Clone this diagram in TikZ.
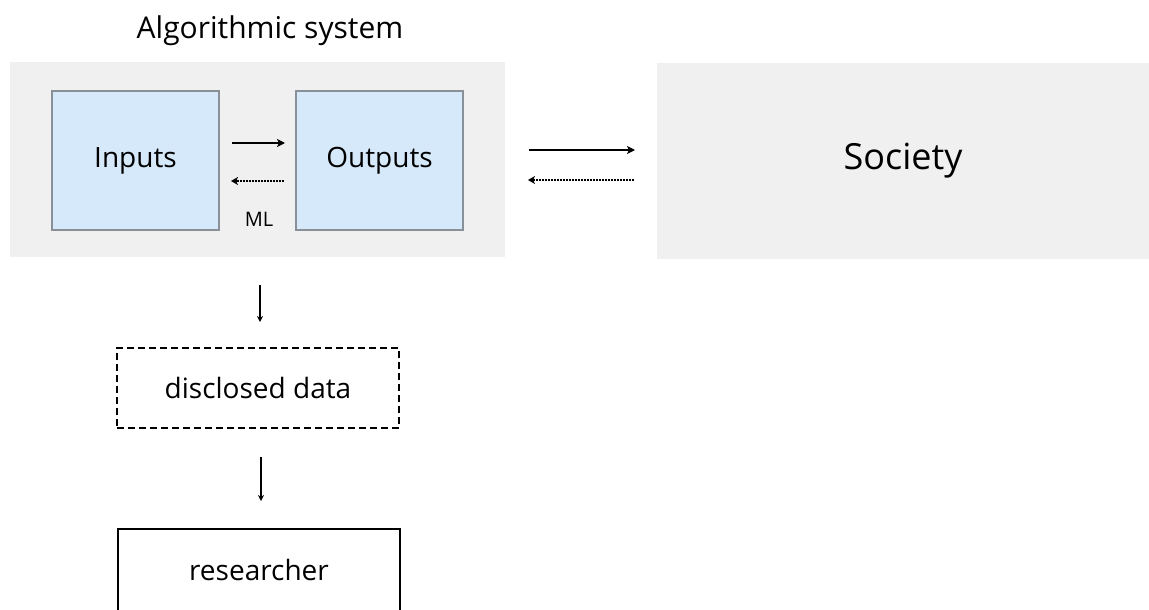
\documentclass[tikz,border=0pt]{standalone}
\usepackage{fontspec}
\setmainfont{Open Sans}
\usetikzlibrary{arrows.meta}
\definecolor{boxgray}{HTML}{F0F0F0}
\definecolor{boxblue}{HTML}{D5E9FB}
\definecolor{edgegray}{HTML}{8A9098}
\tikzset{
  panel/.style={fill=boxgray,draw=none,inner sep=0pt},
  mlbox/.style={fill=boxblue,draw=edgegray,line width=1.2pt,inner sep=0pt,
    minimum width=167pt,minimum height=139pt,font=\fontsize{28}{32}\selectfont},
  flow/.style={-{Stealth[length=8pt,width=8pt,inset=2pt]},line width=1.8pt},
  back/.style={-{Stealth[length=7pt,width=8pt,inset=2pt]},line width=1.8pt,dash pattern=on 1.6pt off 1.4pt},
  down/.style={-{Stealth[length=6pt,width=6pt]},line width=1.2pt},
  lbl/.style={font=\fontsize{28}{32}\selectfont},
}
\begin{document}
\begin{tikzpicture}[x=1pt,y=-1pt]
          \useasboundingbox (0,0) rectangle (1149,610);
          % algorithmic system and society
          \node [panel,minimum width=495pt,minimum height=195pt] (sys) at (257.5,159.5) {};
          \node [panel,minimum width=492pt,minimum height=195pt,font=\fontsize{36}{40}\selectfont] (soc) at (903,161) {Society};
          \node [font=\fontsize{30}{34}\selectfont] (title) at (270,31) {Algorithmic system};
          \node [mlbox] (in) at (135.5,160.5) {Inputs};
          \node [mlbox] (out) at (379.5,160.5) {Outputs};
          \node [font=\fontsize{20}{24}\selectfont] (ml) at (259,219) {ML};
          % arrows inside
          \coordinate (a1) at (232,143); \coordinate (a2) at (285,143);
          \coordinate (b1) at (284,181); \coordinate (b2) at (231,181);
          \draw [flow] (a1) -- (a2);
          \draw [back] (b1) -- (b2);
          \coordinate (c1) at (529,150); \coordinate (c2) at (635,150);
          \coordinate (d1) at (634,180); \coordinate (d2) at (528,180);
          \draw [flow] (c1) -- (c2);
          \draw [back] (d1) -- (d2);
          % disclosure
          \node [lbl,draw,dash pattern=on 7pt off 4pt,line width=1.6pt,minimum width=282pt,minimum height=80pt] (data) at (258,388) {disclosed data};
          \node [draw,line width=1.6pt,minimum width=282pt,minimum height=100pt] (res) at (259,579) {};
          \node [lbl] (restext) at (259,570) {researcher};
          \coordinate (e1) at (260,285); \coordinate (e2) at (260,322);
          \coordinate (f1) at (261,457); \coordinate (f2) at (261,501);
          \draw [down] (e1) -- (e2);
          \draw [down] (f1) -- (f2);
          \end{tikzpicture}
\end{document}
